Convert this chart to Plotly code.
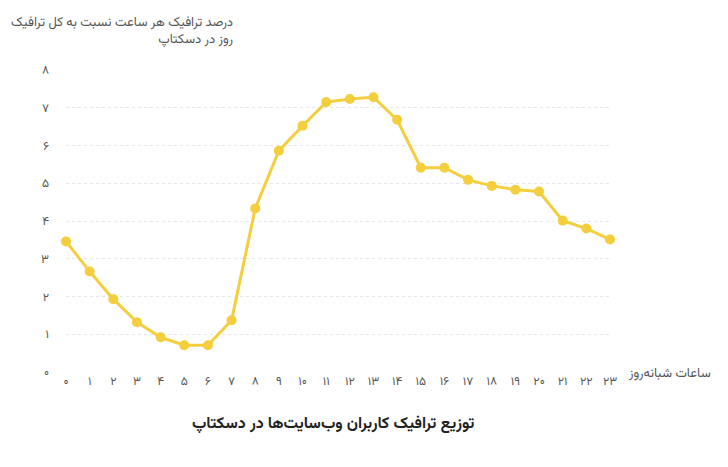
import plotly.graph_objects as go

hours = list(range(24))
fa_digits = "۰۱۲۳۴۵۶۷۸۹"
def fa(n): return "".join(fa_digits[int(c)] for c in str(n))
hour_labels = [fa(h) for h in hours]
traffic = [3.46, 2.66, 1.93, 1.32, 0.92, 0.71, 0.71, 1.37, 4.33, 5.86, 6.52, 7.15,
           7.23, 7.28, 6.68, 5.41, 5.41, 5.09, 4.93, 4.83, 4.78, 4.01, 3.80, 3.51]
y_ticks = list(range(9))
y_labels = [fa(v) for v in y_ticks]

color = "#F4CE3C"
font = "Noto Sans, Vazirmatn, DejaVu Sans"
fig = go.Figure(go.Scatter(x=hours, y=traffic, mode="lines+markers",
                           line=dict(color=color, width=3),
                           marker=dict(color=color, size=10), cliponaxis=False))
fig.update_layout(
    width=728, height=467, paper_bgcolor="white", plot_bgcolor="white",
    margin=dict(l=58, r=126, t=62, b=103, autoexpand=False), showlegend=False,
    font=dict(family=font, color="#555", size=12),
    xaxis=dict(tickvals=hours, ticktext=hour_labels, range=[0, 23], showgrid=False,
               zeroline=False, ticks="", ticklen=0, showline=False, fixedrange=True,
               automargin=False),
    yaxis=dict(tickvals=y_ticks, ticktext=y_labels, range=[0, 8], showgrid=True,
               gridcolor="#e6e6e6", gridwidth=1, griddash="dot", zeroline=False, ticks="",
               ticklabelstandoff=16, automargin=False),
    annotations=[
        dict(text="درصد ترافیک هر ساعت نسبت به کل ترافیک<br>روز در دسکتاپ", xref="paper", yref="paper",
             x=0.311, y=1.0, yshift=60, xanchor="right", yanchor="top", showarrow=False, align="right",
             font=dict(size=13, color="#555")),
        dict(text="ساعات شبانه‌روز", xref="paper", yref="y", x=1.0, y=0, xshift=103, xanchor="right",
             yanchor="middle", showarrow=False, font=dict(size=13, color="#555")),
        dict(text="<b>توزیع ترافیک کاربران وب‌سایت‌ها در دسکتاپ</b>", xref="paper", yref="paper",
             x=0.49, y=0, yshift=-50, xanchor="center", yanchor="middle", showarrow=False,
             font=dict(size=16, color="#222")),
    ],
)
fig.write_html("out.html")
